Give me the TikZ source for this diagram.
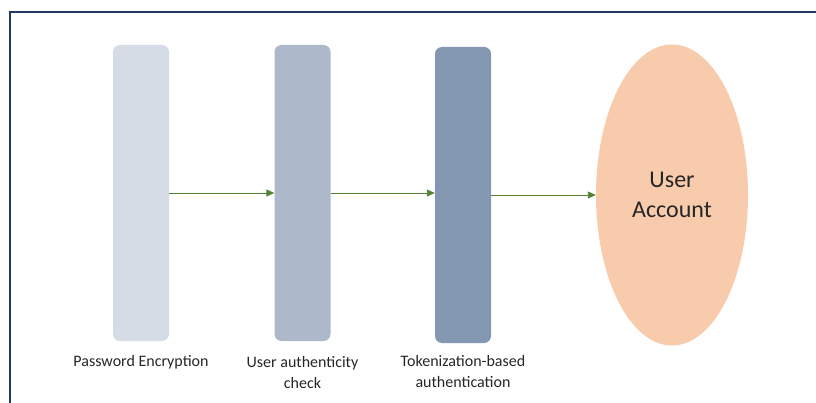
\documentclass[tikz,border=0pt]{standalone}
\usepackage{fontspec}
\setmainfont{Carlito}
\usepackage{xcolor}
\usetikzlibrary{arrows.meta, positioning, shapes.geometric}

\definecolor{framenavy}{HTML}{1F3864}
\definecolor{barlight}{HTML}{D6DCE5}
\definecolor{barmid}{HTML}{ADB9CA}
\definecolor{bardark}{HTML}{8497B0}
\definecolor{peach}{HTML}{F8CBAD}
\definecolor{flowgreen}{HTML}{548235}
\definecolor{inkgray}{HTML}{262626}

\begin{document}
\begin{tikzpicture}[x=1pt, y=-1pt,
    bar/.style={rounded corners=7pt, minimum width=56pt, minimum height=296pt, inner sep=0pt},
    flow/.style={draw=flowgreen, line width=0.9pt, -{Triangle[length=8pt, width=7pt]}},
    caption/.style={align=center, inner sep=0pt, text=inkgray, font=\fontsize{16}{20.5}\selectfont}]
    \useasboundingbox (0,0) rectangle (816,403);

    % outer frame (only top and left edges show)
    \draw[framenavy, line width=2pt] (10,403) -- (10,12) -- (816,12);

    % the three stages
    \node[bar, fill=barlight] (pwd) at (141,193) {};
    \node[bar, fill=barmid] (auth) at (302.5,193) {};
    \node[bar, fill=bardark] (token) at (463,195) {};

    % target
    \node[ellipse, fill=peach, minimum width=152pt, minimum height=301pt, inner sep=0pt,
          align=center, text=inkgray, font=\fontsize{24}{29}\selectfont] (acct) at (672,195) {User\\[1pt]Account};

    % flow between stages
    \draw[flow] (pwd) -- (auth);
    \draw[flow] (auth.east) -- (auth.east -| token.west);
    \draw[flow] (token) -- (acct);

    % captions
    \node[caption, below=14pt of pwd] (pwdlbl) {Password Encryption};
    \node[caption, below=15pt of auth] (authlbl) {User authenticity\\check};
    \node[caption, below=12pt of token] (tokenlbl) {Tokenization-based\\authentication};
\end{tikzpicture}
\end{document}
